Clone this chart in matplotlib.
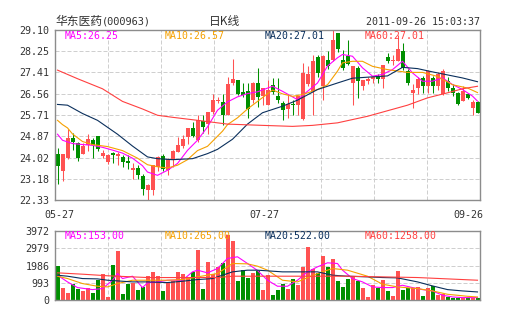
import matplotlib
matplotlib.use('Agg')
import matplotlib.pyplot as plt
import numpy as np

# ---------------- data ----------------
title_name = "华东医药"
title_code = "(000963)"
title_kind = "日K线"
timestamp = "2011-09-26 15:03:37"
date_labels = ["05-27", "07-27", "09-26"]
date_label_days = [0, 42, 84]

opens = [24.18, 23.50, 24.01, 24.80, 24.60, 24.17, 24.53, 24.72, 24.89, 24.07,
         23.85, 24.22, 24.08, 24.05, 23.88, 23.55, 23.62, 23.28, 22.73, 22.73,
         23.65, 24.08, 23.55, 23.92, 24.25, 24.47, 24.82, 25.20, 24.71, 25.47,
         25.35, 25.84, 26.27, 26.23, 25.71, 26.96, 27.09, 26.63, 26.67, 26.30,
         26.96, 26.45, 26.12, 26.89, 26.45, 26.19, 25.96, 26.14, 26.12, 25.55,
         26.92, 26.65, 28.02, 26.85, 27.88, 27.91, 28.97, 27.91, 28.04, 26.98,
         27.58, 26.85, 27.06, 27.12, 27.25, 27.15, 28.02, 27.84, 27.84, 28.24,
         27.46, 26.58, 26.80, 27.19, 26.86, 27.19, 26.86, 26.53, 27.06, 26.80,
         26.60, 26.27, 26.53, 25.98, 26.24]
highs = [24.40, 24.17, 25.17, 25.00, 24.66, 24.62, 24.95, 24.80, 24.89, 24.33,
         24.18, 24.25, 24.25, 24.14, 24.12, 23.79, 23.72, 23.39, 22.99, 23.72,
         24.08, 24.15, 24.00, 24.31, 24.84, 24.91, 25.21, 25.44, 25.70, 25.70,
         25.84, 26.56, 26.43, 26.56, 27.22, 27.95, 27.09, 26.96, 26.96, 27.03,
         27.56, 26.80, 27.11, 27.18, 27.18, 26.26, 26.52, 26.32, 26.45, 27.78,
         27.65, 28.10, 28.10, 28.10, 28.24, 29.10, 28.97, 28.30, 28.70, 27.64,
         27.64, 27.08, 27.20, 27.25, 27.32, 27.71, 28.17, 28.10, 28.90, 28.57,
         27.55, 26.92, 27.20, 27.25, 27.50, 27.25, 27.40, 27.53, 27.20, 26.95,
         26.62, 26.85, 26.60, 26.30, 26.28]
lows = [22.98, 23.10, 23.95, 24.34, 23.90, 24.17, 24.30, 24.00, 24.30, 24.00,
        23.78, 23.80, 23.72, 23.65, 23.59, 23.18, 23.18, 22.53, 22.33, 22.53,
        23.50, 23.50, 23.32, 23.65, 24.25, 24.40, 24.58, 24.84, 24.65, 25.00,
        24.97, 25.77, 26.20, 25.31, 25.71, 26.89, 26.50, 26.43, 25.60, 26.20,
        26.03, 26.12, 26.10, 26.55, 26.20, 25.53, 25.60, 25.73, 25.73, 25.53,
        26.85, 25.73, 27.20, 26.32, 27.55, 27.85, 28.20, 27.50, 27.70, 26.12,
        26.39, 26.70, 26.95, 26.98, 26.98, 26.78, 27.78, 27.70, 27.84, 27.50,
        26.90, 25.99, 26.55, 26.60, 26.58, 26.60, 26.70, 26.50, 26.65, 26.45,
        26.10, 26.25, 26.35, 25.70, 25.78]
closes = [23.68, 24.17, 24.80, 24.64, 24.01, 24.47, 24.76, 24.53, 24.36, 24.20,
          24.11, 24.14, 24.15, 23.85, 23.81, 23.62, 23.32, 22.79, 22.93, 23.72,
          24.05, 23.59, 23.95, 24.28, 24.54, 24.74, 25.21, 24.87, 25.53, 25.24,
          25.82, 26.30, 26.30, 25.71, 26.92, 27.13, 26.56, 26.50, 25.95, 26.96,
          26.43, 26.78, 26.72, 26.62, 26.32, 25.92, 26.15, 26.10, 26.45, 27.38,
          27.32, 27.84, 27.38, 28.04, 27.64, 28.70, 28.31, 27.58, 27.75, 27.64,
          27.05, 27.08, 27.14, 27.22, 27.15, 27.71, 27.84, 27.91, 28.31, 27.58,
          26.96, 26.72, 27.13, 26.86, 27.46, 26.86, 27.33, 27.46, 26.80, 26.60,
          26.14, 26.66, 26.37, 26.24, 25.81]
volumes = [1948, 726, 439, 955, 668, 516, 726, 420, 1146, 1490,
           191, 2005, 2826, 382, 955, 993, 573, 764, 1375, 1623,
           1375, 516, 1050, 1108, 1623, 1490, 1299, 1623, 2864, 668,
           2196, 1528, 1910, 2139, 3724, 3399, 1108, 1719, 1280, 1566,
           1681, 573, 1432, 286, 573, 955, 668, 1241, 859, 1910,
           3055, 1776, 1566, 2521, 1910, 2349, 1108, 764, 1203, 1337,
           1108, 726, 191, 859, 707, 1146, 535, 229, 1661, 573,
           726, 726, 742, 263, 680, 800, 330, 344, 191, 153,
           134, 153, 153, 153, 153]

# moving-average lines (day index, value)
ma5_days = [0, 1, 3, 5, 7, 9, 11, 13, 15, 17, 18, 20, 22, 24, 26, 28, 30, 32, 34, 36,
            38, 40, 43, 45, 47, 48, 50, 52, 54, 56, 57, 59, 61, 63, 65, 67, 69, 71,
            73, 75, 77, 79, 81, 83, 84]
ma5_vals = [24.95, 24.71, 24.58, 24.54, 24.51, 24.43, 24.32, 24.20, 24.00, 23.70,
            23.45, 23.32, 23.52, 23.79, 24.31, 24.71, 25.24, 25.90, 26.23, 26.43,
            26.56, 26.63, 26.85, 26.65, 26.43, 26.32, 26.65, 26.98, 27.65, 27.98,
            28.11, 28.04, 27.58, 27.25, 27.32, 27.51, 27.84, 27.38, 27.05, 27.05,
            27.18, 26.92, 26.72, 26.46, 26.26]
ma10_days = [0, 1, 2, 3, 5, 7, 10, 13, 16, 18, 20, 22, 24, 26, 28, 30, 33, 34, 36, 38,
             41, 43, 45, 47, 49, 52, 54, 56, 57, 59, 61, 63, 66, 70, 73, 76, 79, 82, 84]
ma10_vals = [25.50, 25.33, 25.20, 24.96, 24.66, 24.54, 24.46, 24.30, 24.00, 23.74,
             23.66, 23.61, 23.72, 23.94, 24.30, 24.47, 25.07, 25.33, 25.60, 25.95,
             26.40, 26.70, 26.55, 26.45, 26.52, 26.72, 26.91, 27.45, 27.78, 27.84,
             27.84, 27.64, 27.51, 27.40, 27.40, 27.24, 26.91, 26.78, 26.60]
ma20_days = [0, 2, 5, 8, 12, 15, 18, 20, 23, 27, 30, 32, 35, 38, 41, 45, 48, 52, 56,
             59, 62, 66, 69, 72, 75, 78, 81, 84]
ma20_vals = [26.13, 26.10, 25.77, 25.50, 24.95, 24.48, 24.05, 23.98, 23.94, 23.98,
             24.18, 24.35, 24.75, 25.35, 25.80, 26.06, 26.30, 26.72, 26.98, 27.17,
             27.21, 27.26, 27.60, 27.55, 27.42, 27.30, 27.18, 27.03]
ma60_days = [0, 4, 9, 13, 17, 20, 23, 28, 34, 41, 47, 51, 56, 62, 66, 70, 74, 78, 81, 84]
ma60_vals = [27.49, 27.15, 26.75, 26.25, 25.95, 25.70, 25.62, 25.50, 25.35, 25.30,
             25.26, 25.30, 25.40, 25.66, 25.88, 26.10, 26.39, 26.59, 26.75, 26.85]

vma5_days = [0, 2, 4, 7, 9, 11, 12, 13, 15, 17, 18, 20, 22, 25, 27, 28, 30, 32, 34, 36,
             38, 40, 42, 44, 46, 48, 50, 52, 54, 56, 57, 59, 61, 63, 65, 67, 69, 71,
             73, 75, 77, 79, 81, 84]
vma5_vals = [1432, 1050, 726, 611, 668, 1146, 1528, 1241, 1375, 726, 993, 1050, 1146,
             1146, 1623, 1719, 1566, 1814, 2387, 2483, 2100, 1700, 1146, 802, 802,
             1146, 1623, 1910, 2139, 2100, 1719, 1241, 1050, 764, 726, 726, 859, 726,
             611, 535, 286, 191, 153, 153]
vma10_days = [0, 2, 5, 8, 10, 12, 15, 18, 22, 25, 28, 32, 35, 38, 40, 42, 45, 48, 52,
              55, 58, 62, 65, 68, 72, 75, 78, 82, 84]
vma10_vals = [1375, 1241, 955, 802, 764, 955, 1146, 1146, 1146, 1184, 1337, 1528, 2100,
              2080, 1948, 1719, 1146, 1050, 1528, 1814, 1719, 1375, 917, 764, 668, 535,
              344, 229, 191]
vma20_days = [0, 2, 5, 8, 10, 15, 18, 22, 25, 28, 31, 35, 38, 40, 45, 52, 55, 58, 62,
              65, 68, 72, 75, 78, 81, 84]
vma20_vals = [1432, 1375, 1241, 1222, 1146, 1050, 1050, 1012, 1088, 1184, 1241, 1623,
              1719, 1719, 1623, 1623, 1432, 1375, 1337, 1299, 1280, 1050, 821, 611, 535, 477]
vma60_days = [0, 5, 10, 18, 25, 32, 35, 40, 45, 52, 58, 65, 72, 78, 84]
vma60_vals = [1566, 1490, 1400, 1299, 1299, 1299, 1375, 1375, 1375, 1375, 1375, 1337,
              1299, 1222, 1146]

price_ticks = ["22.33", "23.18", "24.02", "24.87", "25.71", "26.56", "27.41", "28.25", "29.10"]
vol_ticks = ["0", "993", "1986", "2979", "3972"]

price_legend = ["MA5:26.25", "MA10:26.57", "MA20:27.01", "MA60:27.01"]
vol_legend = ["MA5:153.00", "MA10:265.00", "MA20:522.00", "MA60:1258.00"]

# ---------------- styling ----------------
RED = '#ff5252'
GREEN = '#008f00'
MA_COLORS = ['#ff00ff', '#f5a000', '#0a2f5c', '#ff4040']
GRID = '#cfcfcf'
FRAME = '#8c8c8c'
TXT = '#333333'
MONO = 'DejaVu Sans Mono'

W, H = 505, 330
fig = plt.figure(figsize=(W / 100, H / 100), dpi=100)
fig.patch.set_facecolor('white')


def fx(px):
    return px / W


def fy(py):
    return 1 - py / H


ax = fig.add_axes([fx(55), fy(200.3), fx(480) - fx(55), fy(29.5) - fy(200.3)])
axv = fig.add_axes([fx(55), fy(300.3), fx(480) - fx(55), fy(230.7) - fy(300.3)])

o = np.array(opens)
h = np.array(highs)
l = np.array(lows)
c = np.array(closes)
v = np.array(volumes)
n = len(c)
x = np.arange(n)
up = c >= o
cols = np.where(up, RED, GREEN)

# candles
ax.vlines(x, l, h, colors=cols, lw=0.75, zorder=3)
body_bottom = np.minimum(o, c)
body_h = np.maximum(np.abs(c - o), 0.03)
ax.bar(x, body_h, bottom=body_bottom, width=0.8, color=cols, linewidth=0, zorder=3)

for days, vals, col in zip([ma5_days, ma10_days, ma20_days, ma60_days],
                           [ma5_vals, ma10_vals, ma20_vals, ma60_vals], MA_COLORS):
    ax.plot(days, vals, color=col, lw=0.8, zorder=4)

# volume
axv.bar(x, v, width=0.8, color=cols, linewidth=0, zorder=3)
for days, vals, col in zip([vma5_days, vma10_days, vma20_days, vma60_days],
                           [vma5_vals, vma10_vals, vma20_vals, vma60_vals], MA_COLORS):
    axv.plot(days, vals, color=col, lw=0.8, zorder=4)

grid_x = -0.5 + (n / 8.0) * np.arange(1, 8)
for a, ticks in ((ax, price_ticks), (axv, vol_ticks)):
    vals = [float(t) for t in ticks]
    a.set_xlim(-0.5, n - 0.5)
    a.set_ylim(vals[0], vals[-1])
    a.set_yticks(vals)
    a.set_yticklabels(ticks, fontfamily=MONO)
    a.set_xticks(grid_x)
    a.tick_params(axis='x', length=0, labelbottom=False)
    a.tick_params(axis='y', length=0, pad=4, labelsize=7.2, labelcolor=TXT)
    a.grid(True, color=GRID, linestyle=(0, (4, 2)), lw=0.72, zorder=0)
    a.set_axisbelow(True)
    for s in a.spines.values():
        s.set_color(FRAME)
        s.set_linewidth(1.0)
        s.set_zorder(5)

# legends inside panels
for i, (t1, t2) in enumerate(zip(price_legend, vol_legend)):
    xp = fx(65 + 100 * i)
    fig.text(xp, fy(36), t1, color=MA_COLORS[i], fontsize=7.1, family=MONO, va='center', ha='left')
    fig.text(xp, fy(236), t2, color=MA_COLORS[i], fontsize=7.1, family=MONO, va='center', ha='left')

# date labels
offsets = [2, -3, 5.5]
aligns = ['center', 'center', 'right']
for lab, d, dx, ha in zip(date_labels, date_label_days, offsets, aligns):
    ax.annotate(lab, xy=(d, 0), xycoords=('data', 'axes fraction'),
                xytext=(dx, -14.7), textcoords='offset pixels',
                ha=ha, va='center', fontsize=7.2, family=MONO, color=TXT,
                annotation_clip=False)

# header
fig.text(fx(55), fy(21.5), title_name, fontsize=8.5, family=['Noto Sans CJK SC', 'DejaVu Sans'],
         color=TXT, va='center', ha='left')
fig.text(fx(101.5), fy(21.5), title_code, fontsize=7.4, family=MONO, color=TXT, va='center', ha='left')
fig.text(fx(225), fy(21.5), title_kind, fontsize=8.5, family=['Noto Sans CJK SC', 'DejaVu Sans'],
         color=TXT, va='center', ha='center')
fig.text(fx(480), fy(22), timestamp, fontsize=7.2, family=MONO, color=TXT, va='center', ha='right')

fig.savefig('out.png', dpi=100, facecolor='white')
